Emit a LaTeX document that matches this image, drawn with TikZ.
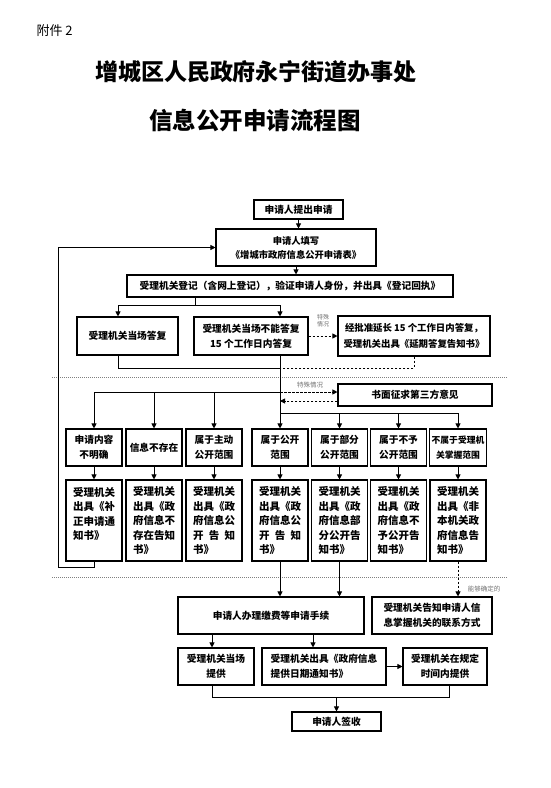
\documentclass[tikz,border=0pt]{standalone}
\usepackage{fontspec}
\setmainfont{Noto Sans CJK SC}
\usetikzlibrary{arrows.meta,calc}
\newcommand{\spl}[3]{\makebox[42pt][s]{#1\hfill#2\hfill#3}}
\begin{document}
\begin{tikzpicture}[x=1pt,y=-1pt,
  box/.style={draw=black,line width=1.1pt,fill=white,inner sep=2pt,align=center,font=\bfseries\fontsize{9.7}{15}\selectfont},
  con/.style={line width=0.9pt},
  arr/.style={con,-{Triangle[length=5pt,width=5pt]}},
  dsh/.style={dash pattern=on 2.5pt off 1.5pt},
  sep/.style={gray,line width=0.7pt,dash pattern=on 1.2pt off 0.8pt},
  note/.style={text=gray!90!black,font=\fontsize{6.5}{7}\selectfont,inner sep=0pt},
  rowa/.style={box,minimum width=56pt,minimum height=37pt},
  rowb/.style={box,minimum width=56pt,minimum height=81pt,text width=42pt,align=left,font=\bfseries\fontsize{10.5}{14.5}\selectfont},
]
\useasboundingbox (0,0) rectangle (550,788);
\fill[white] (0,0) rectangle (550,788);

% titles
\node[anchor=west,font=\fontsize{13}{13}\selectfont] (att) at (33,31) {附件 2};
\node[font=\bfseries\fontsize{23}{23}\selectfont] (t1) at (256,72) {增城区人民政府永宁街道办事处};
\node[font=\bfseries\fontsize{23.5}{23.5}\selectfont] (t2) at (255,120) {信息公开申请流程图};

% top boxes
\node[box,minimum width=89pt,minimum height=19pt] (n1) at (298.5,209.5) {申请人提出申请};
\node[box,minimum width=160pt,minimum height=37pt,font=\bfseries\fontsize{9.3}{14}\selectfont] (n2) at (296,247.5) {申请人填写\\《增城市政府信息公开申请表》};
\node[box,minimum width=326pt,minimum height=22pt] (n3) at (290,286) {受理机关登记（含网上登记），验证申请人身份，并出具《登记回执》};
\node[box,minimum width=101pt,minimum height=38pt] (n4) at (127.5,336) {受理机关当场答复};
\node[box,minimum width=114pt,minimum height=38pt] (n5) at (251,336) {受理机关当场不能答复\\15 个工作日内答复};
\node[box,minimum width=152pt,minimum height=40pt,font=\bfseries\fontsize{9.4}{16}\selectfont] (n6) at (414,336) {经批准延长 15 个工作日内答复，\\受理机关出具《延期答复告知书》};
\node[box,minimum width=154pt,minimum height=22pt] (n7) at (415,395) {书面征求第三方意见};

% row 1
\node[rowa] (rA1) at (94,447.5) {申请内容\\不明确};
\node[rowa] (rB1) at (154,447.5) {信息不存在};
\node[rowa] (rC1) at (214,447.5) {属于主动\\公开范围};
\node[rowa] (rD1) at (280,447.5) {属于公开\\范围};
\node[rowa] (rE1) at (339.5,447.5) {属于部分\\公开范围};
\node[rowa] (rF1) at (398.5,447.5) {属于不予\\公开范围};
\node[rowa,font=\bfseries\fontsize{8.8}{15}\selectfont] (rG1) at (458,447.5) {不属于受理机\\关掌握范围};

% row 2
\node[rowb] (rA2) at (94,520.5) {受理机关\\出具《补\\正申请通\\知书》\\\mbox{}};
\node[rowb] (rB2) at (154,520.5) {受理机关\\出具《政\\府信息不\\存在告知\\书》};
\node[rowb] (rC2) at (214,520.5) {受理机关\\出具《政\\府信息公\\\spl{开}{告}{知}\\书》};
\node[rowb] (rD2) at (280,520.5) {受理机关\\出具《政\\府信息公\\\spl{开}{告}{知}\\书》};
\node[rowb] (rE2) at (339.5,520.5) {受理机关\\出具《政\\府信息部\\分公开告\\知书》};
\node[rowb] (rF2) at (398.5,520.5) {受理机关\\出具《政\\府信息不\\予公开告\\知书》};
\node[rowb] (rG2) at (458,520.5) {受理机关\\出具《非\\本机关政\\府信息告\\知书》};

% bottom boxes
\node[box,minimum width=186pt,minimum height=37pt] (n8) at (271,615.5) {申请人办理缴费等申请手续};
\node[box,minimum width=120pt,minimum height=37pt] (n9) at (432,615.5) {受理机关告知申请人信\\息掌握机关的联系方式};
\node[box,minimum width=76pt,minimum height=37pt] (n10) at (216,666.5) {受理机关当场\\提供};
\node[box,minimum width=124pt,minimum height=37pt,align=left] (n11) at (324,666.5) {受理机关出具《政府信息\\提供日期通知书》};
\node[box,minimum width=84pt,minimum height=37pt] (n12) at (445,666.5) {受理机关在规定\\时间内提供};
\node[box,minimum width=89pt,minimum height=19pt] (n13) at (336.5,721.5) {申请人签收};

% helper coordinates
\coordinate (xl) at (118,0);
\coordinate (j1) at (195,305);
\coordinate (m1) at (0,368);
\coordinate (b1) at (0,392);
\coordinate (b2) at (0,401);
\coordinate (b3) at (0,413);
\coordinate (lp) at (58,567);
\coordinate (c212) at (212,0);
\coordinate (c313) at (313,0);
\coordinate (c449) at (449,0);
\coordinate (m3) at (0,697);

% separators
\draw[sep] (52,377) -- (507,377);
\draw[sep] (52,577) -- (507,577);

% connectors
\draw[arr] (n1.south) -- (n1.south |- n2.north);
\draw[arr] (n2.south) -- (n2.south |- n3.north);
\draw[con] (n3.south -| j1) -- (j1);
\draw[arr] (j1) -| (xl |- n4.north);
\draw[arr] (j1) -| (rD1 |- n5.north);
\draw[con] (xl |- n4.south) |- (rD1 |- m1);
\draw[arr] (rD1 |- n5.south) -- (rD1.north);
\draw[arr,dsh] (n5.east) -- (n6.west);
\draw[con,dsh] (n6.south) |- (rD1 |- m1);

\draw[con] (rD1 |- b1) -- (rA1 |- b1);
\foreach \r in {rA1,rB1,rC1} \draw[arr] (\r |- b1) -- (\r.north);
\draw[arr,dsh] (rD1 |- b1) -- (n7.west |- b1);
\draw[arr,dsh] (n7.west |- b2) -- (rD1 |- b2);
\draw[con] (rD1 |- b3) -- (rG1 |- b3);
\foreach \r in {rE1,rF1,rG1} \draw[arr] (\r |- b3) -- (\r.north);

\draw[arr] (rA1.south) -- (rA2.north);
\draw[arr] (rB1.south) -- (rB2.north);
\draw[arr] (rC1.south) -- (rC2.north);
\draw[arr] (rD1.south) -- (rD2.north);
\draw[arr] (rE1.south) -- (rE2.north);
\draw[arr] (rF1.south) -- (rF2.north);
\draw[arr] (rG1.south) -- (rG2.north);

\draw[arr] (rA2.south) |- (lp) |- (n2.west);
\draw[arr] (rD2.south) -- (rD2.south |- n8.north);
\draw[arr] (rE2.south) -- (rE2.south |- n8.north);
\draw[arr,dsh] (rG2.south) -- (rG2.south |- n9.north);
\draw[arr] (c212 |- n8.south) -- (c212 |- n10.north);
\draw[arr] (c313 |- n8.south) -- (c313 |- n11.north);
\draw[arr] (n11.east) -- (n12.west);
\draw[con] (c212 |- n10.south) |- (c449 |- m3) -- (c449 |- n12.south);
\draw[arr] (n13 |- m3) -- (n13.north);

% notes
\node[note,align=center,font=\fontsize{6}{7}\selectfont] (lab1) at (323,321) {特殊\\情况};
\node[note] (lab2) at (310,385) {特殊情况};
\node[note] (lab3) at (484,589) {能够确定的};
\end{tikzpicture}
\end{document}
